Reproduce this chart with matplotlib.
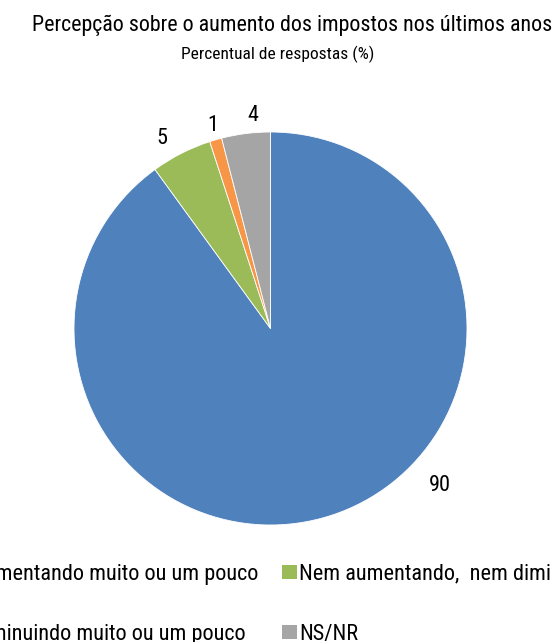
import numpy as np
import matplotlib
matplotlib.use('Agg')
from matplotlib import pyplot as plt
from matplotlib.patches import Patch

plt.rcParams['font.family'] = ['Roboto Condensed', 'DejaVu Sans']

titulo = 'Percepção sobre o aumento dos impostos nos últimos anos'
subtitulo = 'Percentual de respostas (%)'
categorias = ['Aumentando muito ou um pouco', 'Nem aumentando,  nem diminuindo',
              'Diminuindo muito ou um pouco', 'NS/NR']
valores = [90, 5, 1, 4]
cores = ['#4F81BD', '#9BBB59', '#F79646', '#A5A5A5']

W, H = 552, 642
fig = plt.figure(figsize=(W/100, H/100), dpi=100)

# pie centre and radius in pixels
cx, cy, r = 270.5, 328.5, 196.5
ax = fig.add_axes([0, 0, 1, 1])

wedges, _ = ax.pie(valores, colors=cores, startangle=90, counterclock=False,
                   radius=1, wedgeprops=dict(edgecolor='white', linewidth=0.6))
ax.set_xlim(-cx/r, (W-cx)/r)
ax.set_ylim(-(H-cy)/r, cy/r)
ax.set_aspect('auto')
ax.axis('off')

# value labels: (angle in degrees, distance from centre in radii)
pos_rotulos = [(-42.4, 1.167), (119.4, 1.125), (105.6, 1.086), (94.6, 1.100)]
for v, (ang, dist) in zip(valores, pos_rotulos):
    x, y = dist*np.cos(np.radians(ang)), dist*np.sin(np.radians(ang))
    ax.text(x, y - 7.85/r, str(v), ha='center', va='baseline', fontsize=16,
            color='black')

fig.text(292/W, 1 - 31.5/H, titulo, ha='center', va='baseline', fontsize=15.8)
fig.text(278/W, 1 - 59.3/H, subtitulo, ha='center', va='baseline', fontsize=12.5)

# legend filled column by column: two rows of two entries
ordem = [0, 2, 1, 3]
handles = [Patch(facecolor=cores[i], edgecolor='none') for i in ordem]
leg = fig.legend(handles, [categorias[i] for i in ordem], ncol=2, loc='center',
                 bbox_to_anchor=(0.5, 1 - 602/H), frameon=False, fontsize=16,
                 handlelength=0.68, handleheight=0.63, handletextpad=0.09,
                 columnspacing=1.08, labelspacing=1.75, borderpad=0)

# shift legend so the green swatch sits at x = 282 px, y = 572 px
fig.canvas.draw()
rend = fig.canvas.get_renderer()
bb = leg.legend_handles[2].get_window_extent(rend)
dx = 282 - bb.x0
dy = (H - 572) - (bb.y0 + bb.y1) / 2
leg.set_bbox_to_anchor((0.5 + dx/W, 1 - 602/H + dy/H), transform=fig.transFigure)

fig.savefig('out.png', dpi=100)
